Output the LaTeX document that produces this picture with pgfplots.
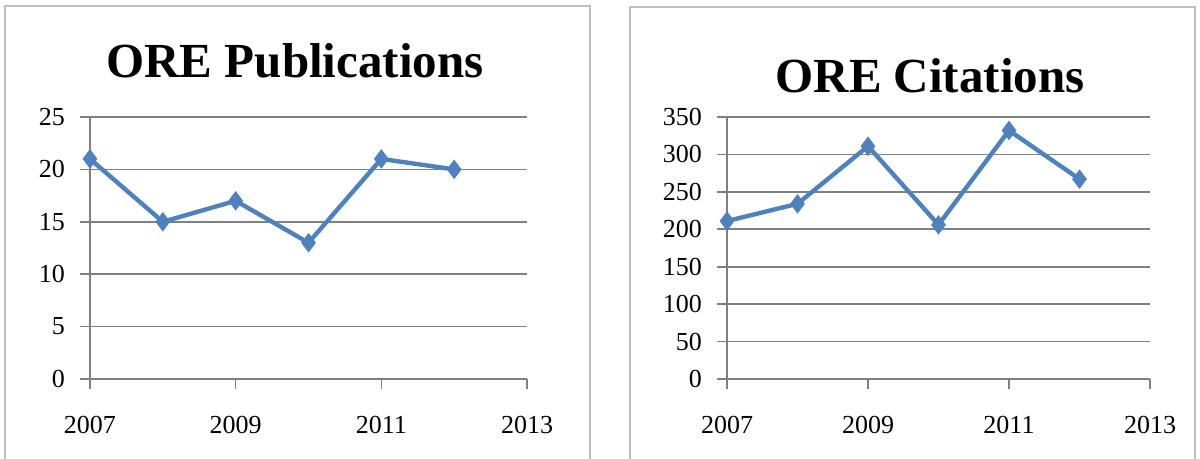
\documentclass[border=0pt]{standalone}
\usepackage{pgfplots}
\pgfplotsset{compat=1.18}
\usepackage{fontspec}
\setmainfont{Liberation Serif}
\definecolor{lineblue}{HTML}{4F81BD}
\definecolor{gridgray}{HTML}{808080}
\definecolor{framegray}{HTML}{BFBFBF}
\pgfplotsset{
  orestyle/.style={
    scale only axis,
    anchor=origin,
    xmin=2007, xmax=2013, ymin=0,
    axis x line=bottom, axis y line=left,
    axis line style={gridgray, line width=0.8pt, -},
    xtick={2007,2009,2011,2013},
    ymajorgrids,
    grid style={gridgray, line width=0.8pt},
    tick style={gridgray, line width=0.8pt},
    major tick length=5pt,
    xtick align=outside, ytick align=outside,
    tick label style={font=\fontsize{13}{15}\selectfont, black},
    /pgf/number format/assume math mode=true,
    /pgf/number format/1000 sep={},
    xticklabel style={yshift=-10pt},
    yticklabel style={xshift=-4pt},
    every axis title shift=0pt,
    title style={font=\fontsize{24.5}{28}\selectfont\bfseries},
    clip=false,
  },
  oreline/.style={lineblue, line width=2.2pt, mark=diamond*, mark size=4.5pt,
    mark options={fill=lineblue, draw=lineblue, line width=0.5pt}},
}
\begin{document}
\begin{tikzpicture}
\useasboundingbox (0pt,0pt) rectangle (600pt,229.5pt);
\draw[framegray, line width=0.8pt] (2.5pt,-5pt) -- (2.5pt,226.5pt) -- (295pt,226.5pt) -- (295pt,-5pt);
\draw[framegray, line width=0.8pt] (315pt,-5pt) -- (315pt,226pt) -- (597.5pt,226pt) -- (597.5pt,-5pt);
\begin{axis}[orestyle,
  at={(45pt,40pt)}, width=218.5pt, height=131pt,
  ymax=25, ytick={0,5,10,15,20,25},
  title={ORE Publications},
  title style={at={(rel axis cs:0.469,1.149)}, anchor=base},
]
\addplot[oreline] coordinates {(2007,21) (2008,15) (2009,17) (2010,13) (2011,21) (2012,20)};
\end{axis}
\begin{axis}[orestyle,
  at={(363.5pt,40pt)}, width=211.5pt, height=131pt,
  ymax=350, ytick={0,50,100,150,200,250,300,350},
  title={ORE Citations},
  title style={at={(rel axis cs:0.48,1.092)}, anchor=base},
]
\addplot[oreline] coordinates {(2007,211) (2008,234) (2009,311) (2010,206) (2011,332) (2012,267)};
\end{axis}
\end{tikzpicture}
\end{document}
